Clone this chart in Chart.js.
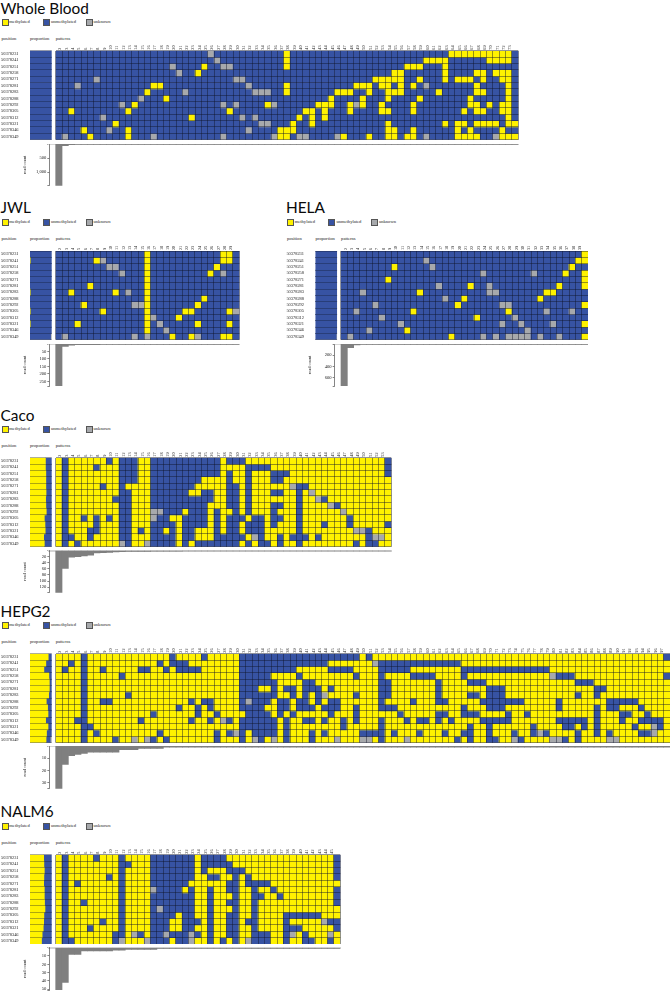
<!DOCTYPE html>
<html><head><meta charset="utf-8">
<script src="https://cdn.jsdelivr.net/npm/chart.js@4"></script>
<style>
html,body{margin:0;padding:0;background:#fff;width:671px;height:992px;overflow:hidden}
canvas{position:absolute;display:block}
.t{position:absolute;white-space:nowrap;color:#111}
.title{font-family:"Lato",sans-serif;font-size:15.4px;line-height:20px;color:#0a0a0a}
.s{font-family:"Liberation Serif",serif;font-size:4.6px;line-height:6px;color:#222}
.sw{position:absolute;width:5px;height:5px;border:0.7px solid #555}
</style></head><body>
<script>
const positions=["50378231","50378241","50378251","50378258","50378271","50378281","50378283","50378288","50378292","50378305","50378312","50378321","50378346","50378349"];
const YELLOW="#fff200",BLUE="#3753a3",GRAY="#a7a9ac";
const LINE="rgba(15,20,40,0.6)";

const wholeBloodMethylated=["37,63-72","37,59-62,69-72","24,37,56-58,62","23,54-55,62,67-68,70-72","51-55,58,62,64-66,68,71-72","16-17,37,48-50,52-53,55,57,67,72","15,37,45-47,50,53-55,61,67-68,72","18,44,49,53,58,66,72","13,34,42-44,47,49,52,57,66-67,69,71-72","3,12,28,40-41,43,47,52-53,57,65,67-68,71-72","22,39,41,43,72","10,38,41,53,62,64-65,67-70,72-73","5,12,36-38,53-54,57,64,66,71","6,12,36-37,46,50,53-54,56-57,64-67,71-73"];
const wholeBloodUnknown=["25","26","19,27,28","20","7,29,30","4,31,59","21,32,33,34","14","11,27,29,35,48","","8,30,32","33,34","9,31","2,16,27,35,39,40,45,59,70"];
const wholeBloodYellowShare=[0,0,0,0,0,0,0,0,0,0,0,0,0,0];
const wholeBloodUnknownShare=[0,0,0,0,0,0,0,0,0,0,0,0,0,0];
const wholeBloodCounts=[1490,60,22,15,12,10,8,8,8,7,7,7,6,6,6,5,5,5,5,5,5,4,4,4,4,4,4,4,3,3,3,3,3,3,3,3,3,3,3,2,2,2,2,2,2,2,2,2,2,2,2,2,2,2,2,2,1,1,1,1,1,1,1,1,1,1,1,1,1,1,1,1,1];
const wholeBloodTicks=[500,1000];

const jwlMethylated=["15,27,28","7,15,27,28","15,26","15,25","15","6,15","3,10,15","15,24","5,15,23","8,15,21,22,28","15,20","4,15,23,28","15","19,22,27,28"];
const jwlUnknown=["","8","9,10","11,27","","","12","","13,14","29","16","17","18","2,13,15,23"];
const jwlYellowShare=[0,0.01,0,0,0,0,0.01,0,0,0.01,0,0.01,0,0];
const jwlUnknownShare=[0,0,0,0,0,0,0,0,0,0,0,0,0,0.05];
const jwlCounts=[281,17,8,5,5,5,5,3,3,3,3,3,3,3,3,2,2,2,2,2,2,2,1,1,1,1,1,1,1];
const jwlTicks=[50,100,150,200,250];

const helaMethylated=["39","38,39","9,37","36,39","8,39","21,35,39","13,33,34","20,32","19,39","12,27","22","39","11","18,39"];
const helaUnknown=["","14","15","23,31","","16,24","4,24,25","17","6,26,27","3,33,37","7,28","10,26,29,34","5,30","2,23,25,27,28,29,30,32,35"];
const helaYellowShare=[0,0,0,0,0,0,0,0,0,0,0,0,0,0];
const helaUnknownShare=[0,0,0,0,0,0,0,0,0,0,0,0,0,0.04];
const helaCounts=[750,65,15,6,5,5,4,4,4,3,3,3,3,3,3,2,2,2,2,2,2,2,2,2,1,1,1,1,1,1,1,1,1,1,1,1,1,1,1];
const helaTicks=[200,400,600];

const cacoUnmethylated=["2,9,11-13,16-26,28-30,53","2,7,11-13,16-26,31-34,53","2,11-13,16-26,28,31,35-37,53","2,11-13,16-23,28,31,35-36","2,8,11,16-22,28-29,31,39-40","2,11-12,16-21,24-25,28-29,31,35-36,39","2,10,11-12,16-25,28-29,31,39,43","2,11-12,16-24,28-29,31,35-36,39,45","2,11-12,18-20,22-24,26,29,31,35,39","2,5,7,9,11-12,17-18,21-24,26,28-30,32-33,35-36,39,47","2,7,11-12,16-19,21-24,26,28-29,31-33,35,39,43,47,53","2,6,7,11-12,14,16-17,19,21-22,26,28-29,31-33,39,50","2,3,6,11-12,16-19,21-22,26-30,33,36,38-40,42,50","2,4,12,16-19,21,23-29,31,33-34,36,39,48,50-51"];
const cacoUnknown=["","","","","38","41","42","44","16,17,46","16","","48,49","32,51,52","11,15"];
const cacoYellowShare=[0.71,0.71,0.73,0.73,0.73,0.74,0.72,0.73,0.75,0.66,0.69,0.70,0.63,0.66];
const cacoUnknownShare=[0,0,0,0,0,0,0,0,0,0,0,0,0,0];
const cacoCounts=[138,59,22,20,18,15,8,7,6,5,4,3,3,3,3,2,2,2,2,2,1,1,1,1,1,1,1,1,1,1,1,1,1,1,1,1,1,1,1,1,1,1,1,1,1,1,1,1,1,1,1,1,1];
const cacoTicks=[20,40,60,80,100,120];

const hepg2Unmethylated=["5,19,24,30-48,50,97","3,5,17,19-21,30-43,52-64","2,5,8,14-15,18,20-23,30-38,44-47,52-56,65-78","5,11,30-34,39,48,52,57-60,65,80-82,97","5,30-35,40-41,52-53,61,66-68,83-85","5,30-32,35,37-38,40-42,44,52-53,61,69-71,86-87","5,12,30-35,38,40,42,48,52-53,61,66-67,69-71,83,86","5,8-9,22,24-25,30,32-34,36-37,39-40,42,44-45,52,57,61-62,68-74,80,88-92","5,20,23,25,30-33,36-37,39-41,43-45,48,52-54,65,69-71,80,86,88-89,93","5,16,23,26,31-34,36,38,44,48,55,61-62,65-67,72,75,86,90-91,94","4,5,14,22,25,28,30-35,37,40-41,43,46,48,52,56,58-59,61,63,68-72,80-84,86,90,93-96","5,6,30-35,37,46,52,66,69,76,81-82,84,86,92,96","5,7,17,26,28,30,32-35,37,41,43,49-52,54,58,62,65-66,69,73,76,78,83,86,88,93-94","5,10,16,18,26,30,33,37,41,52,64,66,69-70,74,81,83"];
const hepg2Unknown=["","51","","79","","","43","31","","","27","95","29,77,95","13,15,32,35,45,49,50,56,73,79,80,88,89"];
const hepg2YellowShare=[0.84,0.73,0.64,0.87,0.89,0.89,0.86,0.75,0.81,0.83,0.72,0.83,0.76,0.74];
const hepg2UnknownShare=[0,0,0,0,0,0,0,0,0,0,0,0,0,0.07];
const hepg2Counts=[35,15,8,7,6,5,5,5,5,5,3,3,3,2,2,2,2,1,1,1,1,1,1,1,1,1,1,1,1,1,1,1,1,1,1,1,1,1,1,1,1,1,1,1,1,1,1,1,1,1,1,1,1,1,1,1,1,1,1,1,1,1,1,1,1,1,1,1,1,1,1,1,1,1,1,1,1,1,1,1,1,1,1,1,1,1,1,1,1,1,1,1,1,1,1,1,1];
const hepg2Ticks=[10,20,30];

const nalm6Unmethylated=["2,7,11,16-22,24-27,45","2,11,12,16-22,24-28,45","2,11,16-22,24,28-30,45","2,9,11,16-22,25-26,29,31,45","2,4,11,16-21,28-29,31-34","2,11,17-20,22,25,28-29,32,35,45","2,11,16-22,25,29,32-33,36,45","2,5,11,16-22,25,28-29,32,45","2,11,16,18-22,25,29,32","2,11,16-19,21-22,25,28-29,32,37-42","2,8,11,16-18,21-23,25,28-29,31-32,37,44-45","2,6,11,16-18,21-22,25,28-29,32,37-39,45","2,10,11,14,16-17,19-21,23,25,28-29,32-34,37,40","2,3,10,16-18,20-21,25,27,29,32-34,37,40-41,44"];
const nalm6Unknown=["","","","","","16","","","17","","43","","13,18,22,38,44","11,15,22,31"];
const nalm6YellowShare=[0.63,0.64,0.66,0.64,0.63,0.66,0.66,0.67,0.69,0.64,0.63,0.61,0.56,0.53];
const nalm6UnknownShare=[0,0,0,0,0,0,0,0,0,0,0,0,0,0];
const nalm6Counts=[51,42,8,8,4,4,4,4,4,3,3,2,2,2,2,2,1,1,1,1,1,1,1,1,1,1,1,1,1,1,1,1,1,1,1,1,1,1,1,1,1,1,1,1,1];
const nalm6Ticks=[10,20,30,40,50];

const panels=[
 {name:"Whole Blood",base:"u",marked:wholeBloodMethylated,unknown:wholeBloodUnknown,yShare:wholeBloodYellowShare,gShare:wholeBloodUnknownShare,counts:wholeBloodCounts,ticks:wholeBloodTicks,dx:0,base1:13,legY:22.3,headY:39,top:50.7,bottom:139.7,right:518.3,cTop:144,cBottom:185.8},
 {name:"JWL",base:"u",marked:jwlMethylated,unknown:jwlUnknown,yShare:jwlYellowShare,gShare:jwlUnknownShare,counts:jwlCounts,ticks:jwlTicks,dx:0,base1:212,legY:222.3,headY:239,top:251,bottom:339.7,right:239.3,cTop:344,cBottom:386},
 {name:"HELA",base:"u",marked:helaMethylated,unknown:helaUnknown,yShare:helaYellowShare,gShare:helaUnknownShare,counts:helaCounts,ticks:helaTicks,dx:285.4,base1:212,legY:222.3,headY:239,top:251,bottom:339.7,right:588,cTop:344,cBottom:386},
 {name:"Caco",base:"m",marked:cacoUnmethylated,unknown:cacoUnknown,yShare:cacoYellowShare,gShare:cacoUnknownShare,counts:cacoCounts,ticks:cacoTicks,dx:0,base1:420,legY:429,headY:445.7,top:457.7,bottom:546.7,right:391.3,cTop:550.5,cBottom:592.7},
 {name:"HEPG2",base:"m",marked:hepg2Unmethylated,unknown:hepg2Unknown,yShare:hepg2YellowShare,gShare:hepg2UnknownShare,counts:hepg2Counts,ticks:hepg2Ticks,dx:0,base1:616,legY:625.3,headY:642,top:653.7,bottom:742.7,right:670,cTop:746,cBottom:788.7},
 {name:"NALM6",base:"m",marked:nalm6Unmethylated,unknown:nalm6Unknown,yShare:nalm6YellowShare,gShare:nalm6UnknownShare,counts:nalm6Counts,ticks:nalm6Ticks,dx:0,base1:816.7,legY:826.3,headY:843.3,top:854.7,bottom:944,right:340.3,cTop:947.7,cBottom:990}
];

function parseCols(s){const o=new Set();if(!s)return o;s.split(",").forEach(p=>{const m=p.split("-").map(Number);for(let i=m[0];i<=(m[1]||m[0]);i++)o.add(i);});return o;}
function addText(txt,x,cy,cls){const d=document.createElement("div");d.className="t "+cls;d.textContent=txt;d.style.left=x+"px";d.style.top=(cy-3)+"px";document.body.appendChild(d);return d;}
function box(x0,y0,x1,y1){
 const c=document.createElement("canvas");const L=Math.floor(x0),T=Math.floor(y0),W=Math.ceil(x1)-L,H=Math.ceil(y1)-T;
 c.width=W;c.height=H;c.style.left=L+"px";c.style.top=T+"px";c.style.width=W+"px";c.style.height=H+"px";document.body.appendChild(c);
 return {c,L,T,W,H,pad:{left:x0-L,top:y0-T,right:Math.ceil(x1)-x1,bottom:Math.ceil(y1)-y1}};
}
const SERIF="'Liberation Serif',serif";
const common={responsive:false,animation:false,plugins:{legend:{display:false},tooltip:{enabled:false}}};
const noPad=s=>{s.paddingLeft=0;s.paddingRight=0;s.paddingTop=0;s.paddingBottom=0;};
const cellLines={display:true,drawTicks:false,color:LINE,lineWidth:0.75,z:1};

panels.forEach(p=>{
 const dx=p.dx,gridLeft=55.7+dx-(dx?0.1:0),n=p.counts.length,cw=(p.right-gridLeft)/n;
 const t=document.createElement("div");t.className="t title";t.textContent=p.name;t.style.left=(dx+0.5)+"px";t.style.top=(p.base1-15.3)+"px";document.body.appendChild(t);
 [["methylated",YELLOW,2,9.3],["unmethylated",BLUE,43,51],["unknown",GRAY,85.5,93.5]].forEach(l=>{
  const s=document.createElement("div");s.className="sw";s.style.left=(l[2]+dx)+"px";s.style.top=(p.legY-3)+"px";s.style.background=l[1];document.body.appendChild(s);
  addText(l[0],l[3]+dx,p.legY,"s");
 });
 addText("position",1.5+dx,p.headY,"s");addText("proportion",30+dx,p.headY,"s");addText("patterns",55.7+dx,p.headY,"s");

 // proportion bars with position labels
 const b1=box(1+dx,p.top,51.7+dx,p.bottom);
 const unm=p.yShare.map((v,i)=>+(1-v-p.gShare[i]).toFixed(3));
 const barOpt={barPercentage:1,categoryPercentage:1,borderWidth:0};
 new Chart(b1.c,{type:"bar",data:{labels:positions,datasets:[
   Object.assign({label:"methylated",data:p.yShare.map(v=>v||null),backgroundColor:YELLOW},barOpt),
   Object.assign({label:"unmethylated",data:unm,backgroundColor:BLUE},barOpt),
   Object.assign({label:"unknown",data:p.gShare.map(v=>v||null),backgroundColor:GRAY},barOpt)]},
  options:Object.assign({},common,{indexAxis:"y",layout:{padding:b1.pad},scales:{
   x:{stacked:true,min:0,max:1,display:false},
   y:{stacked:true,afterFit:s=>{s.width=29;noPad(s);},grid:Object.assign({},cellLines,{color:"rgba(15,20,40,0.45)"}),border:{display:false},
      ticks:{autoSkip:false,crossAlign:"far",padding:0,font:{family:SERIF,size:4.4},color:"#222"}}}})});

 // methylation cell grid
 const b2=box(gridLeft,p.top-9,p.right,p.bottom);
 const cols=[];for(let c=1;c<=n;c++)cols.push(String(c));
 const ds=positions.map((pos,r)=>{
  const mk=parseCols(p.marked[r]),un=parseCols(p.unknown[r]);
  const st=cols.map((_,i)=>{const c=i+1;if(un.has(c))return "k";const m=mk.has(c);return p.base==="u"?(m?"m":"u"):(m?"u":"m");});
  return {label:pos,data:cols.map(()=>1),barPercentage:1,categoryPercentage:1,borderWidth:0,
   backgroundColor:st.map(s=>s==="m"?YELLOW:s==="u"?BLUE:GRAY)};
 });
 new Chart(b2.c,{type:"bar",data:{labels:cols,datasets:ds},options:Object.assign({},common,{layout:{padding:b2.pad},scales:{
   x:{stacked:true,position:"top",afterFit:s=>{s.height=9;noPad(s);},grid:cellLines,border:{display:false},
      ticks:{autoSkip:false,minRotation:90,maxRotation:90,padding:1,font:{family:SERIF,size:4.2},color:"#222"}},
   y:{stacked:true,min:0,max:14,reverse:true,afterFit:s=>{s.width=0;noPad(s);},grid:cellLines,border:{display:false},
      ticks:{display:false,stepSize:1}}}})});

 // read counts (a blank leading slot keeps the axis left of the first column)
 const leftEdge=gridLeft-cw;
 const b3=box(22+dx,p.cTop,p.right,p.cBottom+1);
 const maxV=p.counts[0];
 new Chart(b3.c,{type:"bar",data:{labels:[""].concat(cols),datasets:[{label:"read count",data:[null].concat(p.counts),backgroundColor:"#7f7f7f",barPercentage:1,categoryPercentage:1}]},
  options:Object.assign({},common,{layout:{padding:{left:b3.pad.left,top:b3.pad.top,right:b3.pad.right,bottom:b3.H-(p.cBottom-b3.T)}},scales:{
   x:{position:"top",afterFit:s=>{s.height=0;noPad(s);},ticks:{display:false},grid:{display:false,drawTicks:false},border:{color:"#d6d6d6",width:2}},
   y:{reverse:true,min:0,max:maxV,afterFit:s=>{s.width=leftEdge-(22+dx);noPad(s);},
      afterBuildTicks:s=>{s.ticks=[0].concat(p.ticks,[maxV]).map(v=>({value:v}));},
      title:{display:true,text:"read count",font:{family:SERIF,size:4.4},color:"#222",padding:0},
      grid:{drawOnChartArea:false,drawTicks:true,tickLength:2,color:"#333",lineWidth:0.6},border:{color:"#333",width:0.6},
      ticks:{autoSkip:false,padding:1,font:{family:SERIF,size:4.6},color:"#222",callback:v=>p.ticks.includes(v)?v.toLocaleString("en-US"):""}}}})});
});
</script>
</body></html>
